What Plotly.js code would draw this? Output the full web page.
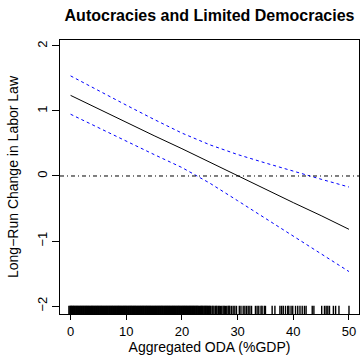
<!DOCTYPE html>
<html>
<head>
<meta charset="utf-8">
<script src="https://cdn.plot.ly/plotly-3.0.1.min.js"></script>
<style>html,body{margin:0;padding:0;background:#fff;}#chart{width:361px;height:359px;}</style>
</head>
<body>
<div id="chart"></div>
<script>
// ---- data ----
const odaGrid   = [0, 5, 10, 15, 20, 25, 30, 35, 40, 45, 50];
const fitEffect = [1.24, 1.03, 0.83, 0.62, 0.42, 0.21, 0.00, -0.20, -0.41, -0.61, -0.82];
const upperCI   = [1.54, 1.31, 1.09, 0.87, 0.66, 0.48, 0.33, 0.20, 0.07, -0.05, -0.17];
const lowerCI   = [0.95, 0.74, 0.54, 0.33, 0.13, -0.11, -0.38, -0.65, -0.93, -1.20, -1.47];
const refLevel  = 0;
const rugODA = [
 -0.3,-0.12,0.0,0.11,0.22,0.35,0.47,0.58,0.7,0.83,0.96,1.08,1.2,1.33,1.45,1.58,1.71,1.83,1.95,2.08,2.2,2.32,2.44,2.57,2.7,2.81,2.93,3.05,3.18,3.3,3.42,3.55,3.68,3.79,3.9,4.03,4.16,4.28,4.41,4.53,4.65,4.78,4.9,
 5.02,5.14,5.27,5.4,5.51,5.63,5.76,5.88,6.0,6.12,6.25,6.37,6.48,6.6,6.73,6.86,6.98,7.1,7.22,7.35,7.46,7.58,7.71,7.84,7.96,8.08,8.2,8.33,8.45,8.57,8.68,8.8,8.93,9.06,9.18,9.3,9.43,9.55,9.67,9.79,9.91,
 10.03,10.15,10.28,10.4,10.52,10.65,10.77,10.88,11.0,11.13,11.26,11.38,11.5,11.62,11.74,11.87,12.0,12.11,12.23,12.35,12.48,12.6,12.72,12.85,12.97,13.08,13.2,13.33,13.46,13.58,13.7,13.82,13.95,14.07,14.19,14.31,14.43,14.56,14.68,14.8,14.92,
 15.05,15.17,15.28,15.4,15.53,15.66,15.78,15.9,16.02,16.14,16.27,16.39,16.5,16.62,16.75,16.88,17.0,17.12,17.24,17.36,17.48,17.6,17.73,17.85,17.97,18.1,18.22,18.34,18.46,18.58,18.7,18.83,18.95,19.07,19.2,19.32,19.44,19.55,19.68,19.8,19.93,
 20.05,20.17,20.3,20.41,20.53,20.66,20.78,20.9,21.02,21.15,21.27,21.38,21.5,21.63,21.76,21.88,22.0,22.12,22.24,22.37,22.5,22.61,22.73,22.86,22.98,
 23.15,23.3,23.43,23.55,23.68,23.8,23.95,24.1,24.22,24.35,24.48,24.6,24.75,24.9,25.02,25.15,25.4,25.55,25.75,26.0,26.15,26.3,26.55,26.7,26.9,27.15,27.4,27.6,27.8,28.05,28.3,28.45,28.6,28.9,29.2,29.5,
 29.8,30.3,30.6,31.0,31.3,31.6,31.9,32.2,32.5,33.2,33.5,33.8,34.2,34.4,34.8,35.0,36.2,36.7,37.6,37.9,38.2,38.6,39.0,39.2,39.6,39.9,
 40.4,40.8,41.2,41.6,42.0,42.3,43.4,43.7,45.1,45.6,45.9,46.2,46.5,47.2,47.6,48.2,50.0
];
const xTicks = [0, 10, 20, 30, 40, 50];
const yTicks = [-2, -1, 0, 1, 2];
const titleText = "Autocracies and Limited Democracies";
const xLabel = "Aggregated ODA (%GDP)";
const yLabel = "Long\u2212Run Change in Labor Law";

// ---- layout ----
const W = 361, H = 359;
const M = {l: 60, r: 2, t: 40, b: 45};
const xRange = [-1.9, 51.8];
const yRange = [-2.123, 2.092];
const rugFrac = 0.03;
const rugTop = yRange[0] + rugFrac * (yRange[1] - yRange[0]);
const FONT = "Liberation Sans, Arial, Helvetica, sans-serif";

// rug as vertical segments (R rug(): ticks rising from the bottom axis)
const rugX = [], rugYs = [];
rugODA.forEach(v => { rugX.push(v, v, null); rugYs.push(yRange[0], rugTop, null); });

const traces = [
  {x: rugX, y: rugYs, type: "scatter", mode: "lines", connectgaps: false,
   line: {color: "#000", width: 1.4, simplify: false}, cliponaxis: false, hoverinfo: "skip"},
  {x: odaGrid, y: upperCI, type: "scatter", mode: "lines", line: {color: "#0000ff", width: 1, dash: "3px,3px"}},
  {x: odaGrid, y: lowerCI, type: "scatter", mode: "lines", line: {color: "#0000ff", width: 1, dash: "3px,3px"}},
  {x: odaGrid, y: fitEffect, type: "scatter", mode: "lines", line: {color: "#000", width: 1}}
];

const axisCommon = {
  showgrid: false, zeroline: false, showline: true, mirror: true,
  linecolor: "#000", linewidth: 1, ticks: "outside", tickcolor: "#000", tickwidth: 1,
  tickfont: {family: FONT, size: 13, color: "#000"}
};

const layout = {
  width: W, height: H, margin: M, showlegend: false,
  paper_bgcolor: "#fff", plot_bgcolor: "#fff",
  font: {family: FONT, color: "#000"},
  title: {text: "<b>" + titleText + "</b>", font: {family: FONT, size: 16, color: "#000"},
          x: 0.5, xref: "paper", xanchor: "center", y: 1 - 15 / H, yref: "container", yanchor: "middle"},
  xaxis: Object.assign({}, axisCommon, {range: xRange, tickvals: xTicks, ticklen: 5,
          title: {text: xLabel, font: {family: FONT, size: 14, color: "#000"}, standoff: 0}}),
  yaxis: Object.assign({}, axisCommon, {range: yRange, tickvals: yTicks, ticklen: 7, tickangle: -90,
          title: {text: yLabel, font: {family: FONT, size: 14, color: "#000"}, standoff: 12}}),
  shapes: [{type: "line", xref: "paper", x0: 0, x1: 1, yref: "y", y0: refLevel, y1: refLevel,
            line: {color: "#000", width: 1, dash: "4px,3px,1px,3px"}}]
};

Plotly.newPlot("chart", traces, layout, {staticPlot: true, displayModeBar: false});
</script>
</body>
</html>
